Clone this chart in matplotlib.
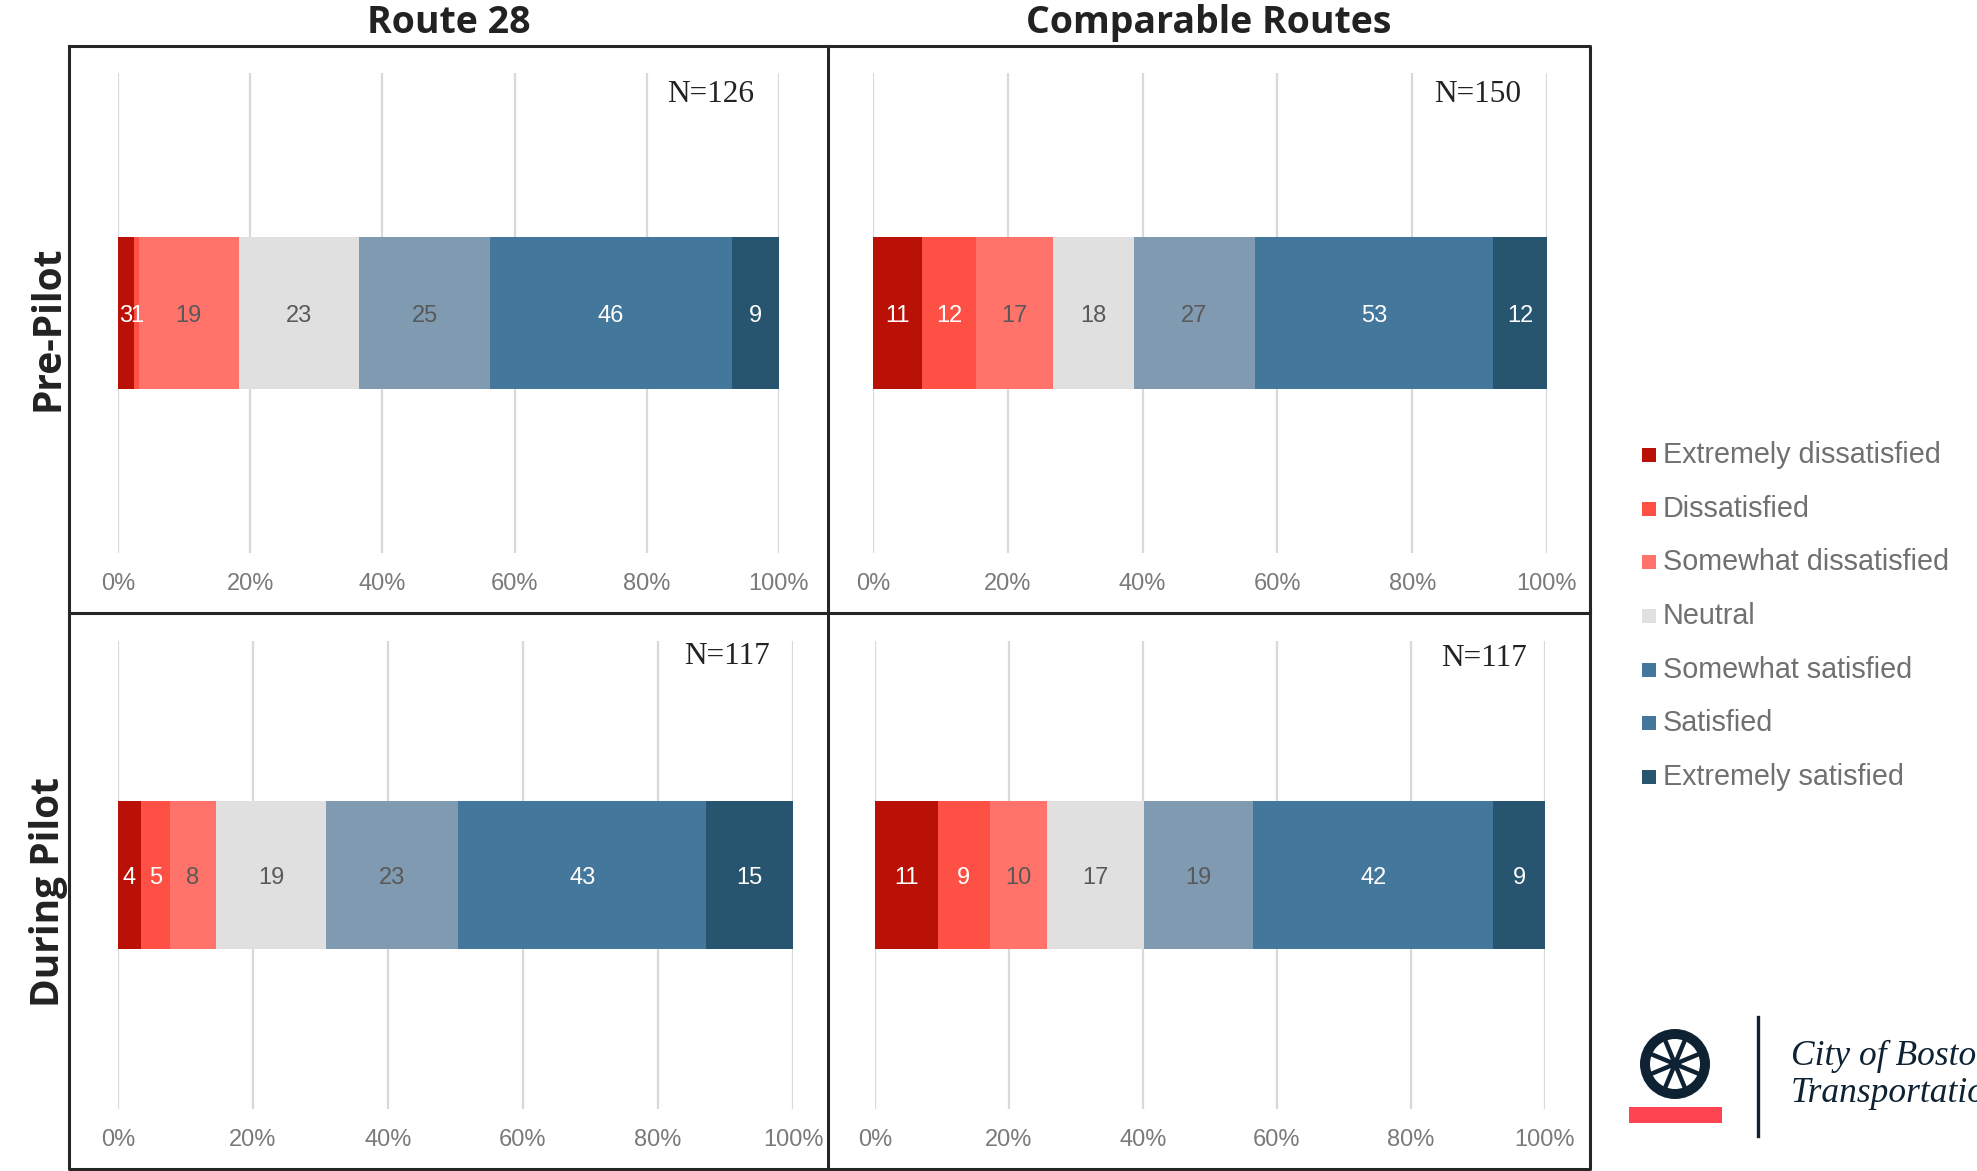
import matplotlib
matplotlib.use("Agg")
import matplotlib.pyplot as plt
from matplotlib.patches import Circle, Rectangle
import numpy as np

# survey counts per satisfaction level
categories = [
    "Extremely dissatisfied",
    "Dissatisfied",
    "Somewhat dissatisfied",
    "Neutral",
    "Somewhat satisfied",
    "Satisfied",
    "Extremely satisfied",
]
route28_pre = [3, 1, 19, 23, 25, 46, 9]
route28_during = [4, 5, 8, 19, 23, 43, 15]
comparable_pre = [11, 12, 17, 18, 27, 53, 12]
comparable_during = [11, 9, 10, 17, 19, 42, 9]

column_titles = ["Route 28", "Comparable Routes"]
row_titles = ["Pre-Pilot", "During Pilot"]
tick_values = [0, 20, 40, 60, 80, 100]

colors = ["#B91106", "#FE5045", "#FF736A", "#E0E0E0", "#809AB2", "#44779C", "#27546E"]
label_colors = ["white", "white", "#595959", "#595959", "#595959", "white", "white"]
# the original legend shows "Somewhat satisfied" with the "Satisfied" swatch
legend_colors = colors[:4] + [colors[5]] + colors[5:]

NAVY = "#0E2233"
W, H = 1977, 1171
fig = plt.figure(figsize=(W / 100, H / 100), dpi=100)


def px_rect(left, top, right, bottom):
    return [left / W, (H - bottom) / H, (right - left) / W, (bottom - top) / H]


# (counts, axes box in px, N label right edge / centre y in px, tick label offset px)
panels = [
    (route28_pre, (118, 73, 779, 553), (754, 94), 31),
    (comparable_pre, (873, 73, 1547, 553), (1521, 94), 31),
    (route28_during, (118, 641, 793, 1109), (770, 657), 31),
    (comparable_during, (875, 641, 1545, 1109), (1527, 658), 31),
]

for counts, box, (nx, ny), tick_off in panels:
    left_px, top_px, right_px, bottom_px = box
    ax = fig.add_axes(px_rect(*box))
    ax.set_xlim(0, 100)
    ax.set_ylim(-0.5, 0.5)
    ax.axis("off")

    for v in tick_values:
        ax.axvline(v, color="#D9D9D9", lw=1.6, zorder=0)
        ax.annotate(f"{v}%", xy=(v, 0), xycoords=("data", "axes fraction"),
                    xytext=(0, -tick_off * 0.72), textcoords="offset points",
                    ha="center", va="center", fontsize=17, color="#7A7A7A",
                    family="Liberation Sans")

    counts = np.array(counts, dtype=float)
    shares = counts / counts.sum() * 100
    starts = np.concatenate([[0], np.cumsum(shares)[:-1]])
    ax.barh(0, shares, left=starts, height=0.315, color=colors, linewidth=0, zorder=2)
    for n, s, st, tc in zip(counts, shares, starts, label_colors):
        ax.text(st + s / 2, 0, f"{int(n)}", ha="center", va="center_baseline",
                fontsize=17, color=tc, family="Liberation Sans", zorder=3)

    ax.text((nx - left_px) / (right_px - left_px), (bottom_px - ny) / (bottom_px - top_px),
            f"N={int(counts.sum())}", transform=ax.transAxes, ha="right", va="center",
            fontsize=22.5, color="#222222", family="Liberation Serif", clip_on=False)

# overlay in pixel coordinates for frame, titles, legend and logo
ov = fig.add_axes([0, 0, 1, 1], zorder=-1)
ov.set_xlim(0, W)
ov.set_ylim(H, 0)
ov.axis("off")

frame_kw = dict(color="#262626", lw=2.2, solid_capstyle="projecting")
ov.plot([69, 1590, 1590, 69, 69], [46, 46, 1169, 1169, 46], **frame_kw)
ov.plot([828, 828], [46, 1169], **frame_kw)
ov.plot([69, 1590], [613, 613], **frame_kw)

for x, title in zip([449, 1209], column_titles):
    ov.text(x, 23, title, ha="center", va="center", fontsize=27,
            fontweight="bold", family="Open Sans", color="#222222")
for y, title in zip([328, 892], row_titles):
    ov.text(48, y, title, ha="center", va="center", rotation=90, fontsize=28,
            fontweight="bold", family="Open Sans", color="#222222")

# legend
legend_y = [455, 509, 562, 616, 670, 723, 777]
for y, label, c in zip(legend_y, categories, legend_colors):
    ov.add_patch(Rectangle((1642, y - 7), 14, 14, color=c, lw=0))
    ov.text(1663, y, label, ha="left", va="center", fontsize=20.7,
            color="#707070", family="Liberation Sans")

# City of Boston Transportation logo
cx, cy = 1675, 1064
ov.add_patch(Circle((cx, cy), 35, color=NAVY, lw=0))
ov.add_patch(Circle((cx, cy), 25, color="white", lw=0))
for ang in np.arange(0, 360, 45):
    a = np.deg2rad(ang + 22.5)
    ov.plot([cx, cx + 25 * np.cos(a)], [cy, cy + 25 * np.sin(a)], color=NAVY, lw=3.2)
ov.add_patch(Circle((cx, cy), 6, color=NAVY, lw=0))
ov.add_patch(Rectangle((1629, 1107), 93, 16, color="#FD4450", lw=0))
ov.plot([1758, 1758], [1017, 1136], color=NAVY, lw=2.4)
ov.text(1791, 1056, "City of Boston", ha="left", va="center", fontsize=25.5,
        style="italic", family="Liberation Serif", color=NAVY)
ov.text(1791, 1093, "Transportation", ha="left", va="center", fontsize=25.5,
        style="italic", family="Liberation Serif", color=NAVY)

fig.savefig("out.png", dpi=100)
